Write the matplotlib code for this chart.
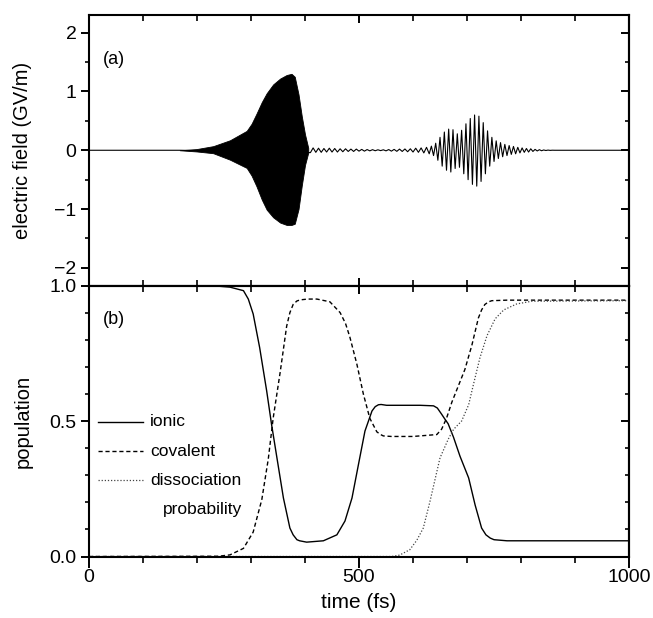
import matplotlib
matplotlib.use('Agg')
import matplotlib.pyplot as plt
from matplotlib.ticker import MultipleLocator, NullFormatter

plt.rcParams['font.family'] = ['Liberation Sans', 'DejaVu Sans']
plt.rcParams['axes.linewidth'] = 1.5

# (a) first pulse: upper / lower envelope of the solid black region
env_t = [168, 199, 230, 261, 292, 301, 310, 320, 329, 341, 354, 366, 375, 381, 388, 394, 400, 406]
env_hi = [0, 0.02, 0.07, 0.17, 0.33, 0.45, 0.62, 0.82, 0.97, 1.12, 1.22, 1.28, 1.30, 1.25, 0.95, 0.58, 0.27, 0.04]
env_lo = [0, -0.02, -0.05, -0.16, -0.30, -0.43, -0.61, -0.84, -1.01, -1.14, -1.23, -1.27, -1.27, -1.25, -1.00, -0.60, -0.25, -0.04]

# small ripples after the first pulse (peak values)
ripple_t = [410, 415, 420, 425, 430, 435, 440, 445, 450, 455, 460, 465, 470, 475, 480,
            485, 490, 495, 500, 505, 510, 515, 520, 525, 530, 535, 540, 545, 550, 555,
            560, 565, 570, 575, 580, 585, 590, 595, 600, 605, 610, 615, 620, 625]
ripple_v = [-0.04, 0.04, -0.035, 0.035, -0.035, 0.03, -0.03, 0.035, -0.03, 0.03, -0.03, 0.025, -0.025, 0.025, -0.02,
            0.02, -0.02, 0.02, -0.015, 0.015, -0.015, 0.012, -0.01, 0.01, -0.008, 0.008, -0.006, 0.008, -0.01, 0.012,
            -0.015, 0.015, -0.018, 0.02, -0.02, 0.022, -0.025, 0.025, -0.03, 0.035, -0.035, 0.04, -0.045, 0.05]

# second pulse (peak values)
pulse2_t = [630, 634, 638, 642, 646, 650, 654, 658, 662, 666, 670, 674, 678, 682, 686,
            690, 694, 698, 702, 706, 710, 714, 718, 722, 726, 730, 734, 738, 742, 746,
            750, 754, 758, 762, 766, 770, 774, 778, 782, 786, 790, 794, 798, 802, 806,
            810, 814, 818, 822, 826, 830, 834, 838, 842, 846, 850, 854, 858, 862]
pulse2_v = [-0.06, 0.07, -0.09, 0.12, -0.17, 0.22, -0.27, 0.31, -0.34, 0.36, -0.37, 0.35, -0.31, 0.28, -0.29,
            0.34, -0.40, 0.45, -0.50, 0.54, -0.58, 0.60, -0.61, 0.58, -0.53, 0.47, -0.40, 0.33, -0.27, 0.22,
            -0.19, 0.16, -0.14, 0.13, -0.11, 0.10, -0.09, 0.08, -0.07, 0.065, -0.06, 0.05, -0.045, 0.04, -0.035,
            0.03, -0.03, 0.025, -0.02, 0.015, -0.012, 0.01, -0.008, 0.005, -0.004, 0.003, -0.002, 0.001, 0]

# (b) populations
ionic_t = [0, 230, 261, 286, 295, 304, 316, 329, 338, 348, 360, 372, 378, 385, 390, 403, 434, 459, 474,
           487, 499, 511, 524, 530, 536, 541, 551, 575, 613, 638, 645, 653, 658, 665, 675, 687, 703,
           715, 727, 735, 743, 750, 774, 1000]
ionic = [1.0, 0.999, 0.994, 0.981, 0.95, 0.895, 0.771, 0.611, 0.488, 0.364, 0.216, 0.105, 0.08, 0.062, 0.058, 0.053, 0.058, 0.08, 0.131,
         0.216, 0.34, 0.463, 0.537, 0.553, 0.56, 0.561, 0.558, 0.558, 0.558, 0.556, 0.548, 0.525, 0.51, 0.49, 0.44, 0.37, 0.29,
         0.19, 0.105, 0.08, 0.068, 0.062, 0.058, 0.058]

covalent_t = [0, 240, 261, 286, 304, 320, 332, 341, 354, 366, 372, 378, 385, 391, 405, 422, 446, 465, 475,
              483, 496, 508, 520, 533, 540, 545, 560, 600, 644, 653, 662, 672, 684, 696, 709, 721, 727,
              733, 740, 746, 774, 1000]
covalent = [0, 0.001, 0.006, 0.03, 0.09, 0.21, 0.36, 0.51, 0.68, 0.85, 0.90, 0.93, 0.943, 0.947, 0.95, 0.95, 0.94, 0.90, 0.86,
            0.81, 0.71, 0.60, 0.51, 0.46, 0.45, 0.445, 0.443, 0.443, 0.45, 0.47, 0.51, 0.57, 0.63, 0.69, 0.78, 0.88, 0.91,
            0.93, 0.94, 0.944, 0.946, 0.946]

dissoc_t = [0, 560, 575, 594, 607, 619, 631, 650, 665, 675, 690, 703, 712, 724, 737, 752, 768, 792, 820, 1000]
dissoc = [0, 0, 0.005, 0.025, 0.06, 0.105, 0.2, 0.364, 0.432, 0.469, 0.50, 0.56, 0.636, 0.734, 0.815, 0.877, 0.91, 0.932, 0.942, 0.944]

field_t = [0, 168] + ripple_t + pulse2_t + [1000]
field_v = [0, 0] + ripple_v + pulse2_v + [0]

fig = plt.figure(figsize=(6.53, 6.18), dpi=100)
ax1 = fig.add_axes([0.1363, 0.538, 0.827, 0.4377])
ax2 = fig.add_axes([0.1363, 0.0995, 0.827, 0.4385])

ax1.plot(field_t, field_v, color='black', lw=0.8)
ax1.fill_between(env_t, env_lo, env_hi, color='black', lw=0.6)

ax2.plot(ionic_t, ionic, color='black', lw=1.0)
ax2.plot(covalent_t, covalent, color='black', lw=1.0, ls=(0, (3, 2)))
ax2.plot(dissoc_t, dissoc, color='#444444', lw=0.9, ls=(0, (1, 1.5)))

ax1.set_xlim(0, 1000)
ax2.set_xlim(0, 1000)
ax1.set_ylim(-2.3, 2.3)
ax2.set_ylim(0, 1.0)


def ticks(ax, ymaj, ymin, labels_x):
    ax.xaxis.set_major_locator(MultipleLocator(500))
    ax.xaxis.set_minor_locator(MultipleLocator(100))
    ax.yaxis.set_major_locator(MultipleLocator(ymaj))
    ax.yaxis.set_minor_locator(MultipleLocator(ymin))
    ax.tick_params(axis='y', which='major', direction='out', length=6, width=1.4, labelsize=14, pad=3)
    ax.tick_params(axis='y', which='minor', direction='out', length=3, width=1.2)
    sy = ax.secondary_yaxis('right')
    sy.yaxis.set_major_locator(MultipleLocator(ymaj))
    sy.yaxis.set_minor_locator(MultipleLocator(ymin))
    sy.yaxis.set_major_formatter(NullFormatter())
    sy.tick_params(which='major', direction='in', length=6, width=1.4)
    sy.tick_params(which='minor', direction='in', length=3, width=1.2)
    sy.spines['right'].set_linewidth(1.5)
    if labels_x:
        ax.tick_params(axis='x', which='major', direction='out', length=8, width=1.4, labelsize=14, pad=1)
        ax.tick_params(axis='x', which='minor', direction='out', length=4, width=1.2)
        sx = ax.secondary_xaxis('top')
        sx.xaxis.set_major_locator(MultipleLocator(500))
        sx.xaxis.set_minor_locator(MultipleLocator(100))
        sx.xaxis.set_major_formatter(NullFormatter())
        sx.tick_params(which='major', direction='in', length=6, width=1.4)
        sx.tick_params(which='minor', direction='in', length=4, width=1.2)
        sx.spines['top'].set_linewidth(1.5)
    else:
        ax.tick_params(axis='x', which='major', direction='in', top=True, length=6, width=1.4, labelbottom=False)
        ax.tick_params(axis='x', which='minor', direction='in', top=True, length=4, width=1.2)


ticks(ax1, 1, 0.5, False)
ticks(ax2, 0.5, 0.1, True)

ax1.set_ylabel('electric field (GV/m)', fontsize=14.5)
ax1.yaxis.set_label_coords(-0.105, 0.5)
ax2.set_ylabel('population', fontsize=14.5)
ax2.yaxis.set_label_coords(-0.105, 0.5)
ax2.set_xlabel('time (fs)', fontsize=15, labelpad=5)

ax1.text(0.025, 0.835, '(a)', transform=ax1.transAxes, fontsize=13, va='center')
ax2.text(0.025, 0.875, '(b)', transform=ax2.transAxes, fontsize=13, va='center')

# legend drawn by hand, as in the original
names = ['ionic', 'covalent', 'dissociation']
styles = [dict(color='black', lw=1.0), dict(color='black', lw=1.0, ls=(0, (3, 2))),
          dict(color='#444444', lw=0.9, ls=(0, (1, 1.5)))]
for i, (name, st) in enumerate(zip(names, styles)):
    y = 0.497 - i * 0.108
    ax2.plot([0.017, 0.1], [y, y], transform=ax2.transAxes, **st)
    ax2.text(0.113, y, name, transform=ax2.transAxes, fontsize=12.5, va='center')
ax2.text(0.137, 0.497 - 3 * 0.108 + 0.002, 'probability', transform=ax2.transAxes, fontsize=12.5, va='center')

fig.savefig('out.png', dpi=100)
